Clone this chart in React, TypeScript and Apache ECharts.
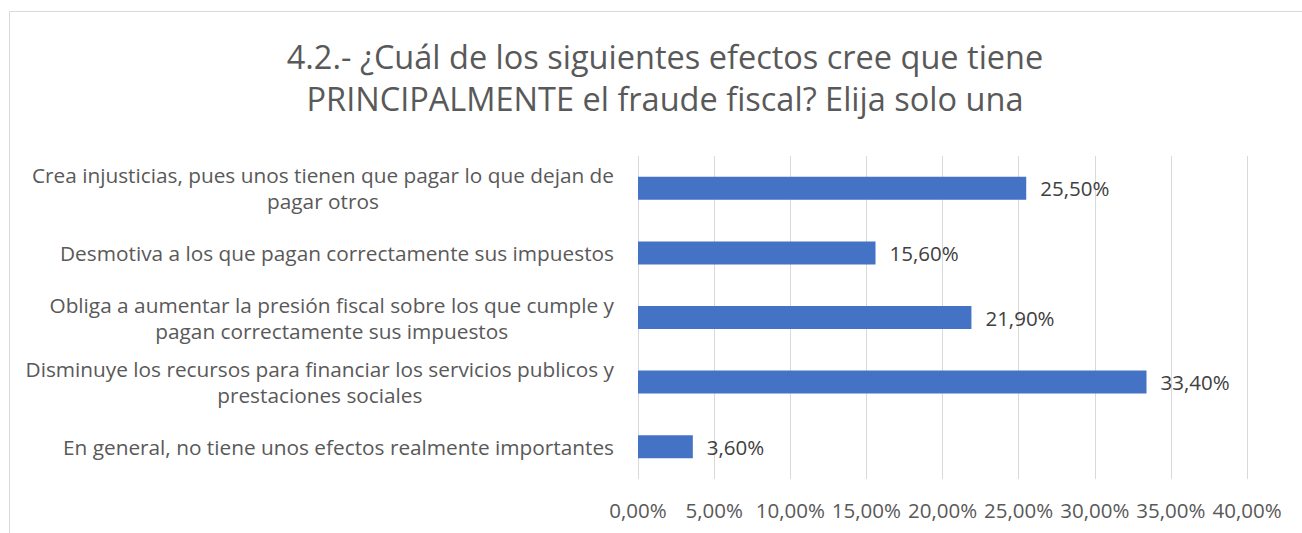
import React, { useEffect, useRef } from "react";
import * as echarts from "echarts";

const categories = [
  "Crea injusticias, pues unos tienen que pagar lo que dejan de\npagar otros",
  "Desmotiva a los que pagan correctamente sus impuestos",
  "Obliga a aumentar la presión fiscal sobre los que cumple y\npagan correctamente sus impuestos",
  "Disminuye los recursos para financiar los servicios publicos y\nprestaciones sociales",
  "En general, no tiene unos efectos realmente importantes",
];
const values = [25.5, 15.6, 21.9, 33.4, 3.6];
const titleText = "4.2.- ¿Cuál de los siguientes efectos cree que tiene\nPRINCIPALMENTE el fraude fiscal? Elija solo una";

const FONT = "Open Sans";
const fmt = (v: number) => v.toFixed(2).replace(".", ",") + "%";

export default function App() {
  const ref = useRef<HTMLDivElement>(null);
  useEffect(() => {
    if (!ref.current) return;
    const chart = echarts.init(ref.current, undefined, { renderer: "svg" });
    chart.setOption({
      animation: false,
      backgroundColor: "#ffffff",
      title: {
        text: titleText,
        left: 660,
        top: 30,
        textAlign: "center",
        textStyle: {
          fontFamily: FONT,
          fontSize: 32.5,
          fontWeight: "normal",
          color: "#595959",
          lineHeight: 42,
        },
      },
      graphic: [
        {
          type: "rect",
          shape: { x: 9.5, y: 11.5, width: 1400, height: 600 },
          style: { fill: "none", stroke: "#d9d9d9", lineWidth: 1 },
          silent: true,
        },
      ],
      grid: { left: 638, right: 55, top: 156, bottom: 54, containLabel: false },
      xAxis: {
        type: "value",
        min: 0,
        max: 40,
        interval: 5,
        axisLine: { show: false },
        axisTick: { show: false },
        splitLine: { show: true, lineStyle: { color: "#d9d9d9", width: 1 } },
        axisLabel: {
          formatter: (v: number) => fmt(v),
          fontFamily: FONT,
          fontSize: 20.5,
          color: "#595959",
          margin: 20,
        },
      },
      yAxis: {
        type: "category",
        data: categories,
        inverse: true,
        axisLine: { show: false },
        axisTick: { show: false },
        axisLabel: {
          margin: 24,
          align: "right",
          fontFamily: FONT,
          fontSize: 20.8,
          color: "#595959",
          lineHeight: 26,
          formatter: (v: string) =>
            v
              .split("\n")
              .map((l) => "{c|" + l + "}")
              .join("\n"),
          rich: {
            c: {
              align: "center",
              fontFamily: FONT,
              fontSize: 20.8,
              color: "#595959",
              lineHeight: 26,
            },
          },
        },
      },
      series: [
        {
          type: "bar",
          data: values,
          barWidth: 23,
          itemStyle: { color: "#4472c4" },
          label: {
            show: true,
            position: "right",
            distance: 14,
            formatter: (p: any) => fmt(p.value),
            fontFamily: FONT,
            fontSize: 20.5,
            color: "#404040",
          },
        },
      ],
    });
    return () => chart.dispose();
  }, []);
  return (
    <div
      ref={ref}
      style={{ position: "absolute", left: 0, top: 0, width: 1302, height: 533 }}
    />
  );
}
